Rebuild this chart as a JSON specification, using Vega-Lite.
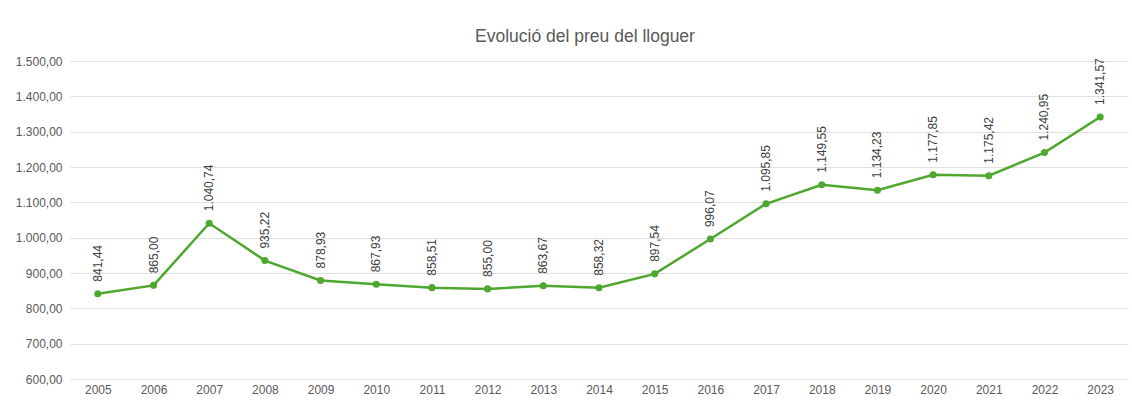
{
  "$schema": "https://vega.github.io/schema/vega-lite/v6.json",
  "width": 1058,
  "height": 318,
  "autosize": {"type": "none"},
  "padding": {"left": 70, "top": 61, "right": 4, "bottom": 22},
  "background": "white",
  "title": {
    "text": "Evolució del preu del lloguer",
    "anchor": "middle",
    "frame": "group",
    "offset": 10,
    "dx": -14,
    "fontSize": 17.5,
    "fontWeight": "normal",
    "font": "Liberation Sans",
    "color": "#595959"
  },
  "config": {
    "locale": {"number": {"decimal": ",", "thousands": ".", "grouping": [3], "currency": ["", " €"]}},
    "view": {"stroke": null},
    "font": "Liberation Sans"
  },
  "data": {
    "values": [
      {"year": "2005", "price": 841.44},
      {"year": "2006", "price": 865.00},
      {"year": "2007", "price": 1040.74},
      {"year": "2008", "price": 935.22},
      {"year": "2009", "price": 878.93},
      {"year": "2010", "price": 867.93},
      {"year": "2011", "price": 858.51},
      {"year": "2012", "price": 855.00},
      {"year": "2013", "price": 863.67},
      {"year": "2014", "price": 858.32},
      {"year": "2015", "price": 897.54},
      {"year": "2016", "price": 996.07},
      {"year": "2017", "price": 1095.85},
      {"year": "2018", "price": 1149.55},
      {"year": "2019", "price": 1134.23},
      {"year": "2020", "price": 1177.85},
      {"year": "2021", "price": 1175.42},
      {"year": "2022", "price": 1240.95},
      {"year": "2023", "price": 1341.57}
    ]
  },
  "encoding": {
    "x": {
      "field": "year", "type": "ordinal",
      "scale": {"type": "point", "padding": 0.5},
      "axis": {"title": null, "labelAngle": 0, "ticks": false, "domain": false, "labelPadding": 5, "labelFontSize": 12, "labelColor": "#595959", "grid": false}
    },
    "y": {
      "field": "price", "type": "quantitative",
      "scale": {"domain": [600, 1500], "nice": false, "zero": false},
      "axis": {"title": null, "values": [600,700,800,900,1000,1100,1200,1300,1400,1500], "format": ",.2f", "ticks": false, "domain": false, "labelPadding": 8, "labelFontSize": 12, "labelColor": "#595959", "gridColor": "#e0e0e0", "gridWidth": 1}
    }
  },
  "layer": [
    {"mark": {"type": "line", "color": "#4ea72e", "strokeWidth": 2.5}},
    {"mark": {"type": "point", "filled": true, "color": "#4ea72e", "size": 50, "opacity": 1}},
    {
      "mark": {"type": "text", "angle": 270, "align": "left", "baseline": "middle", "dx": 12, "fontSize": 12, "color": "#404040"},
      "encoding": {"text": {"field": "price", "type": "quantitative", "format": ",.2f"}}
    }
  ]
}
